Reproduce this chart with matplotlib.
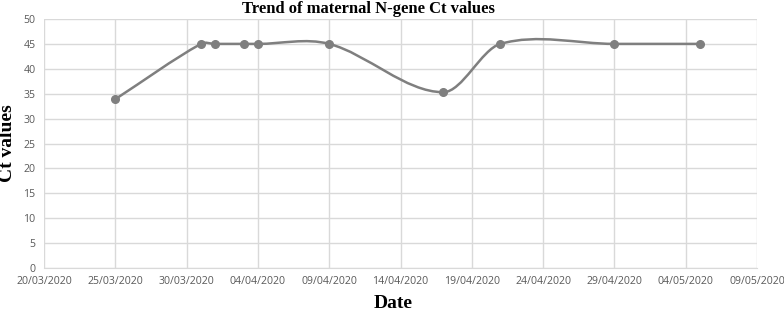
import datetime as dt
import matplotlib
matplotlib.use('Agg')
import matplotlib.pyplot as plt
import matplotlib.dates as mdates
from matplotlib.path import Path
from matplotlib.patches import PathPatch

# Data
dates = ['25/03/2020', '31/03/2020', '01/04/2020', '03/04/2020', '04/04/2020',
         '09/04/2020', '17/04/2020', '21/04/2020', '29/04/2020', '05/05/2020']
ct_values = [33.9, 45, 45, 45, 45, 45, 35.3, 45, 45, 45]
tick_dates = ['20/03/2020', '25/03/2020', '30/03/2020', '04/04/2020', '09/04/2020',
              '14/04/2020', '19/04/2020', '24/04/2020', '29/04/2020', '04/05/2020',
              '09/05/2020']

x = [mdates.date2num(dt.datetime.strptime(d, '%d/%m/%Y')) for d in dates]
y = ct_values
ticks = [mdates.date2num(dt.datetime.strptime(d, '%d/%m/%Y')) for d in tick_dates]

fig = plt.figure(figsize=(7.84, 3.11), dpi=100)
ax = fig.add_axes([44 / 784, 43 / 311, 713 / 784, 249 / 311])

# smoothed line: cubic Bezier segments, slope at each point from its neighbours
n = len(x)
slopes = []
for i in range(n):
    a = max(i - 1, 0)
    b = min(i + 1, n - 1)
    slopes.append((y[b] - y[a]) / (x[b] - x[a]))
verts = [(x[0], y[0])]
codes = [Path.MOVETO]
for i in range(n - 1):
    dx = (x[i + 1] - x[i]) / 3
    verts += [(x[i] + dx, y[i] + slopes[i] * dx),
              (x[i + 1] - dx, y[i + 1] - slopes[i + 1] * dx),
              (x[i + 1], y[i + 1])]
    codes += [Path.CURVE4] * 3
ax.add_patch(PathPatch(Path(verts, codes), fill=False, edgecolor='#7f7f7f',
                       linewidth=1.8, zorder=3))
ax.plot(x, y, linestyle='none', marker='o', markersize=5.5, color='#7f7f7f', zorder=4)

ax.set_xlim(ticks[0], ticks[-1])
ax.set_ylim(0, 50)
ax.set_xticks(ticks)
ax.set_xticklabels(tick_dates)
ax.set_yticks(range(0, 51, 5))
ax.grid(True, color='#d9d9d9', linewidth=1)
ax.set_axisbelow(True)
for s in ['top', 'right', 'left']:
    ax.spines[s].set_visible(False)
ax.spines['bottom'].set_color('#d9d9d9')
ax.tick_params(length=0, labelsize=7.6, labelcolor='#595959', pad=6)
for lab in ax.get_xticklabels() + ax.get_yticklabels():
    lab.set_family('Open Sans')

ax.set_title('Trend of maternal N-gene Ct values', family='Liberation Serif',
             fontweight='bold', fontsize=12, x=(368 - 44) / 713, pad=4)
ax.set_xlabel('Date', family='Liberation Serif', fontweight='bold', fontsize=14)
ax.xaxis.set_label_coords((393 - 44) / 713, -(295 - 268) / 249)
ax.set_ylabel('Ct values', family='Liberation Serif', fontweight='bold', fontsize=14)
ax.yaxis.set_label_coords(-(44 - 16) / 713, 0.5)

fig.savefig('out.png', dpi=100)
